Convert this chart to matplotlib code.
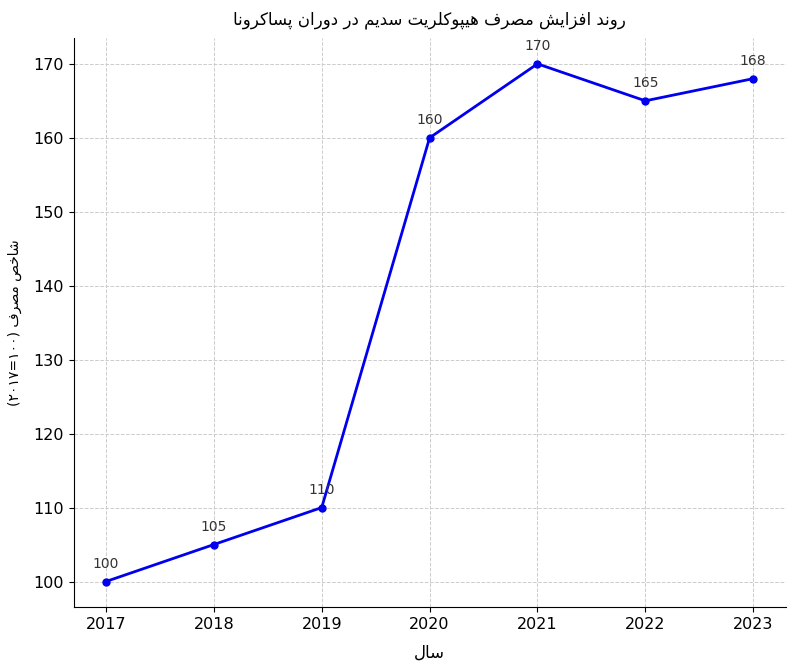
import unicodedata
import matplotlib
matplotlib.use("Agg")
import matplotlib.pyplot as plt

years = [2017, 2018, 2019, 2020, 2021, 2022, 2023]
values = [100, 105, 110, 160, 170, 165, 168]

title_fa = "روند افزایش مصرف هیپوکلریت سدیم در دوران پساکرونا"
xlabel_fa = "سال"
ylabel_fa = "شاخص مصرف"
ylabel_num = "(۲۰۱۷=۱۰۰)"

RIGHT_ONLY = set("اآدذرزژو")


def _form(c, form):
    try:
        return unicodedata.lookup(unicodedata.name(c) + " " + form + " FORM")
    except (KeyError, ValueError):
        return c


def shape_word(w):
    out = []
    for i, c in enumerate(w):
        prev_j = i > 0 and w[i - 1] not in RIGHT_ONLY
        next_j = c not in RIGHT_ONLY and i < len(w) - 1
        if prev_j and next_j:
            out.append(_form(c, "MEDIAL"))
        elif prev_j:
            out.append(_form(c, "FINAL"))
        elif next_j:
            out.append(_form(c, "INITIAL"))
        else:
            out.append(_form(c, "ISOLATED"))
    return "".join(out)


def fa(text):
    # shape and put in visual (left to right) order
    return " ".join(shape_word(w)[::-1] for w in text.split()[::-1])


plt.rcParams['font.family'] = ['DejaVu Sans']
fig, ax = plt.subplots(figsize=(8, 6.66), dpi=100)
fig.subplots_adjust(left=0.092, right=0.982, top=0.943, bottom=0.088)

ax.plot(years, values, color='#0000ee', linewidth=2, marker='o', markersize=5)
for x, y in zip(years, values):
    ax.annotate(str(y), (x, y), textcoords='offset points', xytext=(0, 10),
                ha='center', fontsize=10, color='#333333')

ax.set_xlim(2016.7, 2023.3)
ax.set_ylim(96.5, 173.5)
ax.set_xticks(years)
ax.set_yticks(range(100, 171, 10))
ax.tick_params(labelsize=11.5)
ax.grid(True, linestyle='--', color='#cccccc', linewidth=0.7)
for s in ['top', 'right']:
    ax.spines[s].set_visible(False)

ax.set_title(fa(title_fa), fontsize=12, pad=10)
ax.set_xlabel(fa(xlabel_fa), fontsize=12, labelpad=8)
ax.set_ylabel(ylabel_num + " " + fa(ylabel_fa), fontsize=10, labelpad=8)

fig.savefig("out.png")
